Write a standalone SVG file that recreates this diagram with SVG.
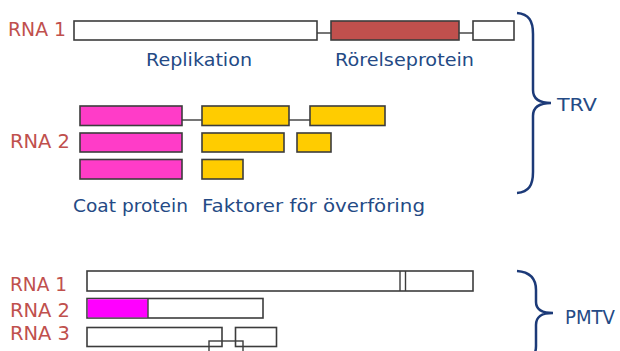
<svg xmlns="http://www.w3.org/2000/svg" width="620" height="351" viewBox="0 0 620 351">
<style>
.bx{stroke:#3c3c3c;stroke-width:1.6}
.w{fill:#ffffff}
.red{fill:#C0504D}
.pk{fill:#FF3CC8}
.yl{fill:#FFCC00}
.ln{stroke:#3c3c3c;stroke-width:1.4;fill:none}
.lab{font-family:"DejaVu Sans","Liberation Sans",sans-serif;font-size:19px;fill:#C0504D}
.cap{font-family:"DejaVu Sans","Liberation Sans",sans-serif;font-size:18px;fill:#244A85}
.br{stroke:#1C3A78;stroke-width:2.5;fill:none}
</style>
<rect width="620" height="351" fill="#ffffff"/>
<g id="labels">
<text class="lab" x="8" y="36" textLength="58" lengthAdjust="spacingAndGlyphs">RNA 1</text>
<text class="lab" x="10" y="148" textLength="60" lengthAdjust="spacingAndGlyphs">RNA 2</text>
<text class="lab" x="10" y="291" textLength="57" lengthAdjust="spacingAndGlyphs">RNA 1</text>
<text class="lab" x="10" y="316.5" textLength="60" lengthAdjust="spacingAndGlyphs">RNA 2</text>
<text class="lab" x="10" y="340" textLength="60" lengthAdjust="spacingAndGlyphs">RNA 3</text>
<text class="cap" x="146" y="66" textLength="106" lengthAdjust="spacingAndGlyphs">Replikation</text>
<text class="cap" x="335" y="66" textLength="139" lengthAdjust="spacingAndGlyphs">Rörelseprotein</text>
<text class="cap" x="73" y="212" textLength="115" lengthAdjust="spacingAndGlyphs">Coat protein</text>
<text class="cap" x="202" y="212" textLength="223" lengthAdjust="spacingAndGlyphs">Faktorer för överföring</text>
<text class="cap" x="557" y="110.5" textLength="40" lengthAdjust="spacingAndGlyphs">TRV</text>
<text class="cap" x="565" y="324" style="font-size:20px" textLength="50" lengthAdjust="spacingAndGlyphs">PMTV</text>
</g>
<g id="connectors">
<line class="ln" x1="317" y1="33" x2="331" y2="33"/>
<line class="ln" x1="459" y1="33" x2="473" y2="33"/>
<line class="ln" x1="182" y1="120" x2="202" y2="120"/>
<line class="ln" x1="289" y1="120" x2="310" y2="120"/>
<path class="br" d="M517,13 C529,14 533,21 533,34 L533,90 C533,99 540,103 551,103 C540,103 533,107 533,116 L533,172 C533,185 529,192 517,193"/>
<path class="br" d="M517,271 C530,272 536,278 536,290 L536,302 C536,310 542,313 553,313 C542,313 536,316 536,325 L536,346 C536,353 533,358 527,360"/>
</g>
<g id="trv-rna1">
<rect class="bx w" x="74" y="21" width="243" height="19"/>
<rect class="bx red" x="331" y="21" width="128" height="19"/>
<rect class="bx w" x="473" y="21" width="41" height="19"/>
</g>
<g id="trv-rna2">
<rect class="bx pk" x="80" y="106" width="102" height="19.5"/>
<rect class="bx yl" x="202" y="106" width="87" height="19.5"/>
<rect class="bx yl" x="310" y="106" width="75" height="19.5"/>
<rect class="bx pk" x="80" y="133" width="102" height="19"/>
<rect class="bx yl" x="202" y="133" width="82" height="19"/>
<rect class="bx yl" x="297" y="133" width="34" height="19"/>
<rect class="bx pk" x="80" y="159.5" width="102" height="19.5"/>
<rect class="bx yl" x="202" y="159.5" width="41" height="19.5"/>
</g>
<g id="pmtv-rna1">
<rect class="bx w" x="87" y="271" width="386" height="20"/>
<line class="ln" x1="400" y1="271" x2="400" y2="291"/>
<line class="ln" x1="405.5" y1="271" x2="405.5" y2="291"/>
</g>
<g id="pmtv-rna2">
<rect class="bx w" x="87" y="298.5" width="176" height="19.5"/>
<rect x="87.8" y="299.3" width="60" height="18" fill="#FF00FF"/>
<line class="ln" x1="148" y1="298.5" x2="148" y2="318"/>
</g>
<g id="pmtv-rna3">
<rect class="bx w" x="87" y="327.5" width="135" height="19"/>
<rect class="bx w" x="235.5" y="327.5" width="41" height="19"/>
<rect class="ln" x="209" y="341" width="34" height="20"/>
</g>
</svg>
